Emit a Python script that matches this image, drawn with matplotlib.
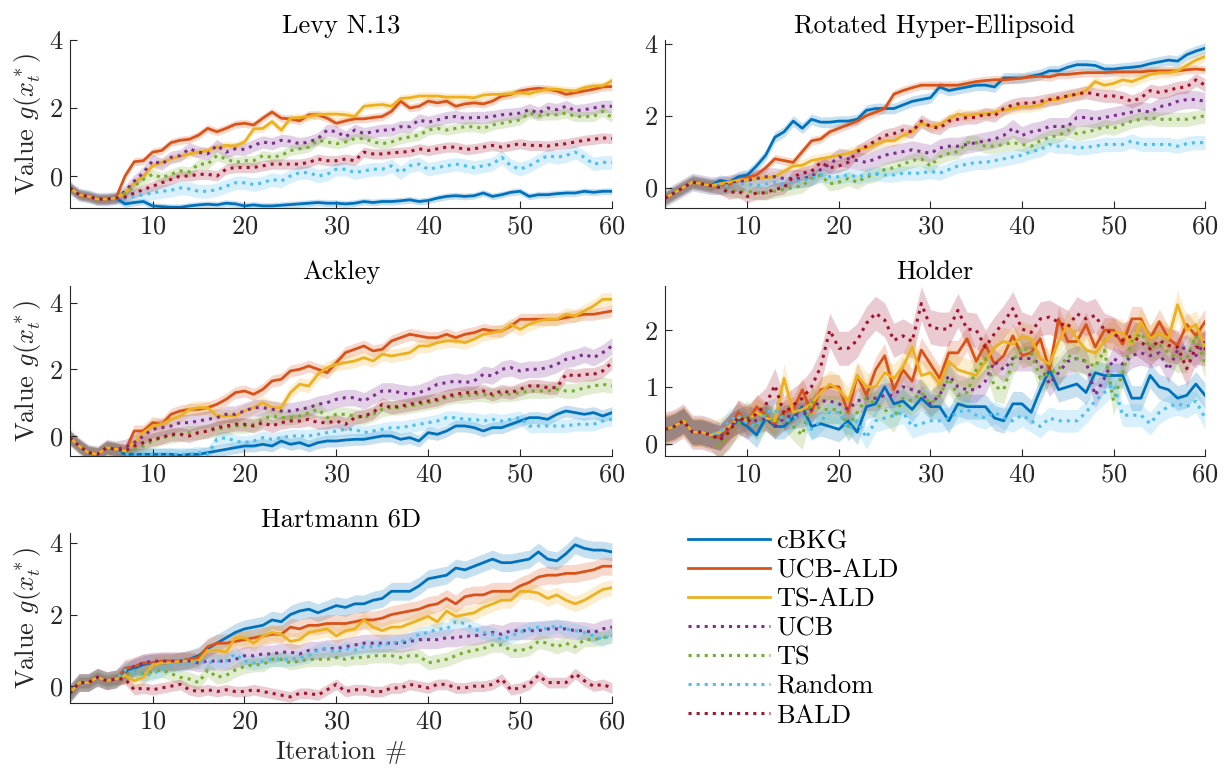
import matplotlib
matplotlib.use('Agg')
import matplotlib.pyplot as plt
import numpy as np

plt.rcParams['font.family'] = 'cmr10'
plt.rcParams['mathtext.fontset'] = 'cm'
plt.rcParams['axes.formatter.use_mathtext'] = True

methods = ['cBKG', 'UCB-ALD', 'TS-ALD', 'UCB', 'TS', 'Random', 'BALD']
colors = ['#0072BD', '#D95319', '#EDB120', '#7E2F8E', '#77AC30', '#4DBEEE', '#A2142F']
styles = ['-', '-', '-', ':', ':', ':', ':']

# ---- Levy N.13 ----
levy_start = [-0.35, -0.55, -0.6, -0.68, -0.68, -0.65]
levy_cbkg = levy_start + [-0.82, -0.78, -0.75, -0.88, -0.9, -0.92, -0.92, -0.88, -0.85, -0.83,
    -0.85, -0.8, -0.82, -0.88, -0.85, -0.88, -0.88, -0.86, -0.84, -0.82,
    -0.8, -0.78, -0.8, -0.8, -0.82, -0.8, -0.75, -0.78, -0.75, -0.75,
    -0.73, -0.7, -0.75, -0.72, -0.65, -0.6, -0.58, -0.6, -0.58, -0.5,
    -0.6, -0.55, -0.48, -0.45, -0.6, -0.55, -0.55, -0.52, -0.5, -0.5,
    -0.45, -0.48, -0.45, -0.45]
levy_ucbald = levy_start + [0.0, 0.42, 0.45, 0.7, 0.75, 0.98, 1.05, 1.08, 1.2, 1.4,
    1.3, 1.4, 1.52, 1.55, 1.5, 1.7, 1.88, 1.7, 1.68, 1.62,
    1.8, 1.8, 1.7, 1.55, 1.62, 1.68, 1.68, 1.72, 1.75, 1.9,
    2.2, 2.0, 2.05, 2.2, 2.15, 2.2, 2.05, 2.12, 2.15, 2.12,
    2.2, 2.35, 2.4, 2.5, 2.55, 2.58, 2.55, 2.5, 2.4, 2.45,
    2.5, 2.55, 2.62, 2.63]
levy_tsald = levy_start + [-0.5, -0.2, 0.0, 0.3, 0.4, 0.5, 0.58, 0.65, 0.7, 0.75,
    0.85, 0.9, 0.88, 1.0, 1.38, 1.4, 1.6, 1.35, 1.7, 1.72,
    1.75, 1.8, 1.82, 1.82, 1.8, 1.75, 2.05, 2.08, 2.1, 2.05,
    2.28, 2.3, 2.35, 2.35, 2.35, 2.32, 2.32, 2.32, 2.3, 2.38,
    2.4, 2.4, 2.42, 2.45, 2.42, 2.5, 2.55, 2.55, 2.52, 2.5,
    2.6, 2.65, 2.65, 2.8]
levy_ucb = levy_start + [-0.45, -0.15, 0.1, 0.45, 0.35, 0.55, 0.6, 0.8, 0.7, 0.65,
    0.9, 0.7, 0.8, 0.78, 0.9, 1.0, 0.95, 1.05, 1.02, 0.95,
    1.0, 1.1, 1.35, 1.3, 1.15, 1.35, 1.25, 1.3, 1.35, 1.35,
    1.45, 1.45, 1.65, 1.58, 1.65, 1.72, 1.75, 1.7, 1.72, 1.72,
    1.75, 1.8, 1.82, 1.85, 1.95, 1.85, 2.0, 1.95, 2.05, 1.92,
    1.95, 2.0, 2.05, 2.05]
levy_ts = levy_start + [-0.5, -0.3, -0.1, 0.05, -0.05, 0.05, 0.15, 0.12, 0.35, 0.35,
    0.6, 0.5, 0.4, 0.45, 0.45, 0.6, 0.55, 0.6, 0.75, 0.8,
    0.85, 1.05, 1.0, 0.95, 1.0, 1.1, 1.1, 1.0, 0.95, 1.0,
    1.1, 1.15, 1.2, 1.35, 1.4, 1.35, 1.4, 1.45, 1.45, 1.4,
    1.5, 1.55, 1.6, 1.65, 1.85, 1.78, 1.8, 1.8, 1.85, 1.75,
    1.75, 1.75, 1.9, 1.72]
levy_random = levy_start + [-0.68, -0.6, -0.55, -0.5, -0.45, -0.42, -0.35, -0.38, -0.45, -0.45,
    -0.4, -0.3, -0.2, -0.2, -0.25, -0.2, -0.1, -0.15, 0.0, 0.1,
    0.1, 0.0, 0.05, 0.2, 0.2, 0.1, 0.15, 0.2, 0.2, 0.3,
    0.1, 0.3, 0.35, 0.2, 0.25, 0.3, 0.35, 0.3, 0.25, 0.3,
    0.35, 0.55, 0.3, 0.2, 0.3, 0.45, 0.6, 0.55, 0.6, 0.7,
    0.55, 0.35, 0.4, 0.4]
levy_bald = levy_start + [-0.62, -0.5, -0.4, -0.3, -0.2, -0.1, 0.0, 0.0, 0.05, 0.05,
    0.0, 0.2, 0.25, 0.25, 0.25, 0.3, 0.35, 0.35, 0.35, 0.35,
    0.4, 0.5, 0.45, 0.45, 0.5, 0.45, 0.7, 0.65, 0.65, 0.68,
    0.7, 0.72, 0.8, 0.75, 0.8, 0.85, 0.85, 0.78, 0.8, 0.85,
    0.9, 0.85, 0.9, 0.95, 0.9, 0.9, 0.88, 0.92, 0.95, 1.0,
    1.05, 1.08, 1.12, 1.1]
levy_band = [0.1, 0.12, 0.12, 0.18, 0.15, 0.2, 0.15]

# ---- Rotated Hyper-Ellipsoid ----
rot_start = [-0.3, -0.15, 0.0, 0.15, 0.1, 0.05]
rot_cbkg = rot_start + [0.2, 0.15, 0.3, 0.35, 0.6, 0.9, 1.4, 1.55, 1.85, 1.65,
    1.9, 1.82, 1.82, 1.85, 1.85, 1.9, 2.15, 2.2, 2.2, 2.2,
    2.3, 2.4, 2.45, 2.5, 2.8, 2.7, 2.75, 2.8, 2.85, 2.85,
    2.8, 3.05, 3.05, 3.05, 3.1, 3.15, 3.25, 3.25, 3.35, 3.42,
    3.42, 3.4, 3.3, 3.3, 3.33, 3.35, 3.38, 3.45, 3.5, 3.55,
    3.52, 3.7, 3.8, 3.88]
rot_ucbald = rot_start + [0.1, 0.08, 0.2, 0.28, 0.35, 0.55, 0.8, 0.75, 0.7, 1.0,
    1.3, 1.35, 1.55, 1.65, 1.75, 1.85, 2.0, 2.1, 2.2, 2.6,
    2.7, 2.78, 2.85, 2.85, 2.85, 2.85, 2.85, 2.9, 2.95, 2.98,
    3.0, 3.0, 3.02, 3.05, 3.08, 3.1, 3.08, 3.15, 3.15, 3.18,
    3.2, 3.2, 3.2, 3.22, 3.22, 3.22, 3.22, 3.25, 3.25, 3.25,
    3.25, 3.28, 3.3, 3.28]
rot_tsald = rot_start + [0.1, 0.15, 0.2, 0.22, 0.25, 0.28, 0.3, 0.45, 0.6, 0.62,
    0.75, 0.8, 0.85, 0.9, 0.95, 1.05, 1.1, 1.2, 1.3, 1.3,
    1.45, 1.55, 1.8, 1.7, 1.75, 1.9, 2.05, 2.0, 2.05, 2.05,
    2.1, 2.15, 2.2, 2.25, 2.25, 2.3, 2.45, 2.45, 2.55, 2.6,
    2.7, 2.95, 2.85, 2.9, 3.0, 2.95, 3.05, 3.15, 3.2, 3.2,
    3.25, 3.4, 3.55, 3.65]
rot_ucb = rot_start + [0.05, 0.1, 0.15, 0.2, 0.25, 0.3, 0.3, 0.25, 0.25, 0.25,
    0.3, 0.5, 0.65, 0.85, 0.8, 0.75, 0.7, 0.8, 0.9, 0.95,
    1.0, 1.05, 1.0, 0.95, 1.1, 1.15, 1.15, 1.2, 1.25, 1.3,
    1.35, 1.45, 1.65, 1.45, 1.55, 1.6, 1.7, 1.7, 1.7, 1.95,
    1.95, 1.9, 1.95, 2.0, 2.05, 2.1, 2.15, 2.1, 2.25, 2.3,
    2.4, 2.45, 2.45, 2.4]
rot_ts = rot_start + [0.0, -0.05, -0.1, -0.1, -0.15, -0.15, -0.1, -0.05, 0.0, 0.05,
    0.25, 0.35, 0.1, 0.15, 0.25, 0.15, 0.3, 0.35, 0.5, 0.55,
    0.65, 0.75, 0.8, 0.6, 0.85, 0.95, 1.0, 1.25, 1.25, 1.15,
    1.15, 1.2, 1.25, 1.2, 1.15, 1.3, 1.4, 1.45, 1.6, 1.5,
    1.55, 1.6, 1.7, 1.65, 1.75, 1.85, 1.9, 1.95, 1.9, 1.9,
    1.9, 1.9, 1.95, 2.0]
rot_random = rot_start + [0.05, 0.05, 0.1, 0.1, 0.05, 0.1, 0.15, 0.1, 0.15, 0.2,
    0.25, 0.35, 0.3, 0.3, 0.35, 0.3, 0.35, 0.4, 0.35, 0.35,
    0.4, 0.4, 0.4, 0.45, 0.4, 0.5, 0.6, 0.65, 0.7, 0.7,
    0.75, 0.8, 0.85, 0.9, 1.0, 1.05, 1.2, 1.15, 1.15, 1.1,
    1.12, 1.15, 1.2, 1.2, 1.2, 1.3, 1.2, 1.2, 1.2, 1.2,
    1.15, 1.22, 1.25, 1.25]
rot_bald = rot_start + [0.0, -0.15, -0.1, -0.25, -0.15, -0.15, -0.05, 0.0, 0.3, 0.4,
    0.45, 0.7, 0.55, 0.6, 0.7, 1.0, 1.15, 1.3, 1.45, 1.5,
    1.6, 1.55, 1.85, 1.7, 1.65, 1.85, 1.9, 1.95, 1.95, 2.05,
    2.0, 2.2, 2.3, 2.35, 2.35, 2.4, 2.45, 2.5, 2.55, 2.6,
    2.65, 2.6, 2.55, 2.55, 2.5, 2.4, 2.5, 2.7, 2.65, 2.7,
    2.78, 2.8, 3.0, 2.85]
rot_band = [0.15, 0.12, 0.15, 0.25, 0.2, 0.2, 0.18]

# ---- Ackley ----
ack_start = [-0.05, -0.3, -0.5, -0.55, -0.35, -0.4]
ack_cbkg = ack_start + [-0.55, -0.55, -0.55, -0.55, -0.55, -0.55, -0.58, -0.55, -0.55, -0.5,
    -0.45, -0.4, -0.35, -0.3, -0.3, -0.25, -0.3, -0.15, -0.25, -0.2,
    -0.3, -0.2, -0.15, -0.15, -0.12, -0.1, -0.1, -0.05, 0.0, 0.0,
    -0.1, -0.05, -0.15, 0.1, 0.05, 0.15, 0.3, 0.3, 0.25, 0.15,
    0.25, 0.25, 0.35, 0.45, 0.55, 0.55, 0.5, 0.65, 0.75, 0.7,
    0.65, 0.7, 0.6, 0.7]
ack_ucbald = ack_start + [-0.45, 0.15, 0.15, 0.4, 0.35, 0.65, 0.75, 0.8, 0.8, 0.85,
    0.95, 1.1, 1.3, 1.35, 1.25, 1.4, 1.65, 1.7, 1.95, 2.0,
    2.1, 2.0, 1.9, 2.2, 2.5, 2.6, 2.7, 2.55, 2.6, 2.85,
    2.95, 3.05, 3.0, 2.95, 2.95, 3.05, 2.95, 3.05, 3.1, 3.2,
    3.15, 3.15, 3.3, 3.5, 3.5, 3.5, 3.5, 3.5, 3.55, 3.6,
    3.65, 3.65, 3.7, 3.75]
ack_tsald = ack_start + [-0.45, -0.2, 0.1, 0.3, 0.35, 0.5, 0.6, 0.8, 0.85, 0.85,
    0.6, 0.6, 0.6, 0.75, 0.85, 1.0, 0.85, 0.85, 1.3, 1.55,
    1.5, 1.85, 2.05, 2.15, 2.2, 2.25, 2.35, 2.25, 2.45, 2.4,
    2.45, 2.5, 2.7, 2.7, 2.8, 2.85, 2.85, 2.8, 2.9, 3.05,
    3.1, 3.15, 3.35, 3.2, 3.35, 3.45, 3.5, 3.5, 3.65, 3.6,
    3.75, 3.9, 4.1, 4.1]
ack_ucb = ack_start + [-0.35, -0.2, 0.0, 0.2, 0.25, 0.3, 0.4, 0.4, 0.45, 0.5,
    0.55, 0.65, 0.65, 0.75, 0.85, 0.85, 0.8, 0.75, 0.75, 0.8,
    0.85, 0.95, 1.0, 1.1, 1.15, 1.15, 1.05, 1.2, 1.35, 1.35,
    1.3, 1.25, 1.3, 1.4, 1.55, 1.6, 1.65, 1.6, 1.65, 1.85,
    1.8, 2.0, 2.05, 1.95, 2.0, 2.0, 2.05, 2.15, 2.3, 2.35,
    2.45, 2.35, 2.5, 2.7]
ack_ts = ack_start + [-0.5, -0.4, -0.3, -0.15, -0.05, 0.0, 0.05, 0.1, 0.1, 0.15,
    0.2, 0.25, 0.3, 0.3, 0.35, 0.5, 0.6, 0.55, 0.55, 0.6,
    0.7, 0.8, 0.55, 0.65, 0.65, 0.6, 0.55, 0.65, 0.8, 0.85,
    0.85, 0.9, 0.95, 1.0, 1.05, 1.15, 1.2, 1.2, 1.25, 1.25,
    1.2, 1.25, 1.25, 1.3, 1.35, 1.35, 1.35, 1.4, 1.35, 1.35,
    1.45, 1.5, 1.55, 1.5]
ack_random = ack_start + [-0.55, -0.55, -0.55, -0.55, -0.55, -0.55, -0.55, -0.55, -0.5, -0.55,
    -0.1, -0.05, -0.15, -0.2, -0.15, -0.05, -0.1, -0.05, 0.0, 0.0,
    0.0, 0.05, 0.1, 0.15, 0.2, 0.2, 0.1, 0.15, 0.2, 0.25,
    0.25, 0.3, 0.35, 0.4, 0.45, 0.55, 0.55, 0.5, 0.5, 0.45,
    0.5, 0.45, 0.5, 0.55, 0.3, 0.3, 0.3, 0.3, 0.3, 0.35,
    0.35, 0.35, 0.45, 0.5]
ack_bald = ack_start + [-0.45, -0.3, -0.2, -0.1, -0.05, 0.05, 0.05, 0.0, 0.1, 0.15,
    0.25, 0.3, 0.35, 0.35, 0.3, 0.4, 0.3, 0.4, 0.45, 0.45,
    0.5, 0.4, 0.4, 0.45, 0.35, 0.55, 0.6, 0.7, 0.95, 0.85,
    0.9, 0.95, 1.0, 1.05, 1.1, 1.2, 1.25, 1.3, 1.3, 1.35,
    1.25, 1.35, 1.3, 1.4, 1.5, 1.5, 1.45, 1.45, 1.85, 1.8,
    1.85, 1.85, 1.95, 2.2]
ack_band = [0.18, 0.18, 0.2, 0.25, 0.22, 0.2, 0.2]

# ---- Holder ----
hol_start = [0.25, 0.3, 0.4, 0.2, 0.2, 0.15]
hol_cbkg = hol_start + [0.1, 0.3, 0.4, 0.3, 0.15, 0.45, 0.3, 0.3, 0.45, 0.65,
    0.3, 0.35, 0.3, 0.25, 0.4, 0.2, 0.65, 0.7, 1.0, 0.7,
    0.75, 0.6, 0.8, 0.65, 0.65, 0.4, 0.7, 0.65, 0.65, 0.65,
    0.45, 0.4, 0.7, 0.7, 0.55, 0.95, 1.3, 0.95, 1.0, 1.05,
    0.9, 1.25, 1.2, 1.2, 1.2, 0.8, 0.8, 1.2, 1.0, 0.95,
    0.8, 0.85, 1.05, 0.85]
hol_ucbald = hol_start + [0.1, 0.25, 0.55, 0.35, 0.65, 0.5, 0.35, 0.55, 0.6, 0.95,
    0.55, 0.95, 1.0, 1.0, 0.55, 1.2, 0.85, 1.3, 1.55, 0.95,
    1.3, 1.1, 1.65, 1.4, 1.15, 1.6, 1.6, 1.85, 1.45, 1.75,
    1.4, 1.55, 1.9, 1.55, 1.6, 1.85, 1.3, 2.2, 1.8, 1.8,
    2.1, 1.7, 2.0, 2.0, 1.75, 2.2, 2.2, 1.85, 2.15, 1.85,
    1.73, 2.1, 1.9, 2.15]
hol_tsald = hol_start + [0.2, 0.3, 0.45, 0.4, 0.55, 0.45, 0.4, 1.15, 0.55, 0.6,
    0.7, 0.9, 1.05, 0.95, 0.75, 1.2, 1.0, 1.0, 1.25, 1.15,
    1.35, 1.7, 1.2, 1.25, 1.05, 1.45, 1.3, 1.25, 1.2, 1.45,
    1.7, 1.8, 1.75, 1.9, 1.85, 1.5, 1.4, 1.8, 2.1, 1.85,
    1.65, 1.6, 1.8, 1.95, 1.95, 1.75, 2.15, 1.85, 1.95, 1.85,
    2.45, 2.0, 2.1, 1.7]
hol_ucb = hol_start + [0.1, 0.3, 0.4, 0.45, 0.4, 0.45, 0.3, 0.45, 0.5, 0.5,
    0.6, 0.75, 0.75, 0.7, 0.6, 0.75, 0.8, 0.8, 0.85, 0.85,
    1.0, 0.95, 0.9, 0.7, 0.85, 1.2, 1.0, 0.95, 0.95, 1.1,
    1.45, 1.3, 1.5, 1.5, 1.5, 1.4, 1.05, 1.25, 1.45, 1.5,
    1.45, 0.85, 1.15, 1.5, 1.4, 1.55, 1.6, 1.55, 1.6, 1.3,
    1.65, 1.7, 1.55, 1.8]
hol_ts = hol_start + [-0.05, 0.2, 0.35, 0.5, 0.3, 0.5, 0.35, 0.5, 0.3, 0.15,
    0.75, 0.6, 0.6, 0.6, 0.3, 0.55, 0.8, 0.7, 0.6, 0.45,
    0.8, 0.75, 0.9, 0.7, 0.85, 1.15, 0.85, 0.9, 1.3, 1.5,
    1.0, 0.95, 1.45, 1.7, 1.6, 1.15, 1.25, 1.3, 1.55, 1.5,
    1.45, 1.35, 1.65, 0.75, 1.25, 1.8, 1.95, 1.7, 1.75, 1.6,
    1.5, 1.5, 1.9, 1.4]
hol_random = hol_start + [0.2, 0.4, 0.5, 0.35, 0.3, 0.55, 0.6, 0.4, 0.45, 0.5,
    0.25, 0.4, 0.55, 0.55, 0.25, 0.4, 0.1, 0.4, 0.45, 0.5,
    0.55, 0.3, 0.35, 0.4, 0.4, 0.45, 0.55, 0.6, 0.5, 0.45,
    0.55, 0.45, 0.4, 0.5, 0.4, 0.3, 0.45, 0.4, 0.4, 0.4,
    0.55, 0.75, 0.9, 1.05, 0.5, 0.5, 0.5, 0.35, 0.55, 0.65,
    0.7, 0.65, 0.75, 0.45]
hol_bald = hol_start + [0.06, 0.2, 0.47, 0.38, 0.53, 0.68, 1.03, 0.53, 0.68, 0.8,
    1.0, 1.35, 2.0, 1.68, 1.68, 1.82, 2.12, 2.3, 2.18, 1.82,
    1.9, 1.8, 2.47, 2.06, 2.02, 2.02, 2.35, 2.02, 2.0, 1.7,
    1.94, 2.14, 2.38, 2.02, 1.96, 2.2, 2.23, 2.14, 2.05, 2.29,
    2.2, 2.26, 2.0, 1.94, 1.82, 1.9, 1.79, 1.67, 1.82, 1.73,
    1.7, 1.32, 1.7, 1.67]
hol_band = [0.22, 0.22, 0.25, 0.22, 0.25, 0.2, 0.3]

# ---- Hartmann 6D ----
har_start = [-0.2, 0.1, 0.1, 0.25, 0.15, 0.2]
har_cbkg = har_start + [0.45, 0.5, 0.6, 0.65, 0.65, 0.65, 0.7, 0.75, 0.85, 1.05,
    1.2, 1.35, 1.5, 1.6, 1.65, 1.7, 1.85, 1.8, 2.0, 2.1,
    2.15, 2.05, 2.15, 2.25, 2.2, 2.3, 2.3, 2.4, 2.45, 2.65,
    2.65, 2.65, 2.8, 3.0, 3.05, 3.1, 3.3, 3.25, 3.35, 3.45,
    3.55, 3.45, 3.45, 3.5, 3.55, 3.75, 3.55, 3.5, 3.7, 3.95,
    3.85, 3.8, 3.8, 3.75]
har_ucbald = har_start + [0.5, 0.55, 0.65, 0.65, 0.7, 0.7, 0.7, 0.75, 0.8, 1.1,
    1.2, 1.2, 1.25, 1.3, 1.35, 1.4, 1.45, 1.45, 1.65, 1.6,
    1.7, 1.7, 1.75, 1.75, 1.75, 1.8, 1.85, 1.85, 1.9, 2.0,
    2.05, 2.1, 2.15, 2.25, 2.3, 2.45, 2.3, 2.5, 2.55, 2.55,
    2.65, 2.65, 2.65, 2.8, 2.9, 3.05, 3.1, 3.1, 3.15, 3.15,
    3.2, 3.25, 3.35, 3.35]
har_tsald = har_start + [0.3, 0.15, 0.25, 0.6, 0.65, 0.65, 0.7, 0.7, 0.7, 1.0,
    1.0, 0.95, 1.35, 1.35, 1.2, 1.4, 1.5, 1.45, 1.25, 1.3,
    1.5, 1.55, 1.6, 1.4, 1.55, 1.6, 1.85, 1.65, 1.55, 1.65,
    1.65, 1.75, 1.85, 1.95, 1.8, 2.1, 1.95, 2.0, 2.05, 2.2,
    2.3, 2.4, 2.4, 2.65, 2.65, 2.6, 2.45, 2.55, 2.4, 2.3,
    2.4, 2.55, 2.7, 2.75]
har_ucb = har_start + [0.35, 0.55, 0.65, 0.7, 0.7, 0.7, 0.7, 0.7, 0.65, 0.7,
    0.7, 0.7, 0.75, 0.85, 0.85, 0.9, 0.9, 0.95, 0.95, 0.9,
    1.0, 1.0, 1.05, 1.05, 1.1, 1.15, 1.2, 1.2, 1.2, 1.2,
    1.2, 1.25, 1.3, 1.3, 1.3, 1.35, 1.35, 1.4, 1.4, 1.45,
    1.5, 1.45, 1.55, 1.55, 1.55, 1.55, 1.6, 1.6, 1.6, 1.55,
    1.55, 1.5, 1.6, 1.65]
har_ts = har_start + [0.3, 0.45, 0.35, 0.4, 0.45, 0.35, 0.25, 0.2, 0.1, 0.45,
    0.25, 0.3, 0.45, 0.55, 0.6, 0.6, 0.75, 0.75, 0.65, 0.7,
    0.75, 0.75, 0.75, 0.8, 0.75, 0.8, 0.8, 0.85, 0.85, 0.85,
    0.8, 0.85, 0.85, 0.65, 0.7, 0.75, 0.85, 0.95, 1.0, 1.05,
    1.15, 1.15, 1.0, 1.0, 1.05, 1.25, 1.2, 1.1, 1.2, 1.1,
    1.3, 1.3, 1.35, 1.4]
har_random = har_start + [0.45, 0.4, 0.3, 0.35, 0.45, 0.6, 0.6, 0.65, 0.7, 0.65,
    0.7, 0.7, 0.9, 0.7, 0.65, 0.7, 0.75, 0.75, 0.75, 0.8,
    0.85, 1.0, 1.05, 0.95, 1.05, 1.0, 1.1, 1.1, 1.15, 1.2,
    1.25, 1.3, 1.45, 1.5, 1.6, 1.6, 1.8, 1.75, 1.6, 1.5,
    1.45, 1.3, 1.4, 1.5, 1.6, 1.65, 1.6, 1.7, 1.6, 1.55,
    1.5, 1.4, 1.3, 1.45]
har_bald = har_start + [0.2, -0.1, -0.05, -0.1, -0.05, 0.0, 0.05, -0.1, -0.15, -0.1,
    -0.15, -0.1, -0.15, -0.15, -0.1, -0.15, -0.2, -0.25, -0.3, -0.2,
    -0.2, -0.25, -0.1, 0.05, -0.15, -0.1, -0.1, -0.15, -0.15, -0.05,
    -0.05, 0.05, 0.0, -0.05, 0.05, 0.05, -0.05, -0.05, 0.0, 0.0,
    0.05, 0.2, -0.1, -0.05, 0.05, 0.3, 0.1, 0.1, 0.1, 0.35,
    0.15, 0.0, 0.05, -0.05]
har_band = [0.25, 0.25, 0.22, 0.25, 0.2, 0.2, 0.15]

panels = [
    ('Levy N.13', [levy_cbkg, levy_ucbald, levy_tsald, levy_ucb, levy_ts, levy_random, levy_bald],
     levy_band, (-0.94, 4.0), [0, 2, 4], [0.057, 0.732, 0.4417, 0.2165]),
    ('Rotated Hyper-Ellipsoid', [rot_cbkg, rot_ucbald, rot_tsald, rot_ucb, rot_ts, rot_random, rot_bald],
     rot_band, (-0.57, 4.11), [0, 2, 4], [0.542, 0.732, 0.4401, 0.2165]),
    ('Ackley', [ack_cbkg, ack_ucbald, ack_tsald, ack_ucb, ack_ts, ack_random, ack_bald],
     ack_band, (-0.6, 4.5), [0, 2, 4], [0.057, 0.4124, 0.4417, 0.2191]),
    ('Holder', [hol_cbkg, hol_ucbald, hol_tsald, hol_ucb, hol_ts, hol_random, hol_bald],
     hol_band, (-0.22, 2.78), [0, 1, 2], [0.542, 0.4124, 0.4401, 0.2191]),
    ('Hartmann 6D', [har_cbkg, har_ucbald, har_tsald, har_ucb, har_ts, har_random, har_bald],
     har_band, (-0.47, 4.28), [0, 2, 4], [0.057, 0.0941, 0.4417, 0.2191]),
]

fs = 19
fig = plt.figure(figsize=(12.27, 7.76), dpi=100)
axcol = '#262626'
handles = []
for k, (title, series, band, ylim, yticks, rect) in enumerate(panels):
    ax = fig.add_axes(rect)
    for s, y in enumerate(series):
        assert len(y) == 60, (title, s, len(y))
        y = np.array(y)
        x = np.arange(1, len(y) + 1)
        ax.fill_between(x, y - band[s], y + band[s], color=colors[s], alpha=0.22, lw=0)
    for s, y in enumerate(series):
        x = np.arange(1, len(y) + 1)
        lw = 2.0 if styles[s] == '-' else 2.2
        ln, = ax.plot(x, y, color=colors[s], ls=styles[s], lw=lw, label=methods[s])
        if k == 0:
            handles.append(ln)
    ax.set_xlim(1, 60)
    ax.set_ylim(*ylim)
    ax.set_xticks([10, 20, 30, 40, 50, 60])
    ax.set_yticks(yticks)
    ax.set_title(title, fontsize=fs, color='black', pad=5)
    for side in ['top', 'right']:
        ax.spines[side].set_visible(False)
    for side in ['left', 'bottom']:
        ax.spines[side].set_color(axcol)
        ax.spines[side].set_linewidth(0.8)
    ax.tick_params(direction='in', length=5, width=0.8, colors=axcol, labelsize=fs,
                   labelcolor=axcol, pad=5)
    if rect[0] < 0.3:
        ax.set_ylabel(r'Value $g(x_t^*)$', fontsize=fs, color=axcol, labelpad=4)
    if k == 4:
        ax.set_xlabel(r'Iteration $\#$', fontsize=fs, color=axcol, labelpad=4)

fig.legend(handles=handles, loc='upper left', bbox_to_anchor=(0.552, 0.331),
           frameon=False, fontsize=fs, handlelength=3.1, labelspacing=0.2,
           handletextpad=0.25, borderaxespad=0)

fig.savefig('out.png', dpi=100)
